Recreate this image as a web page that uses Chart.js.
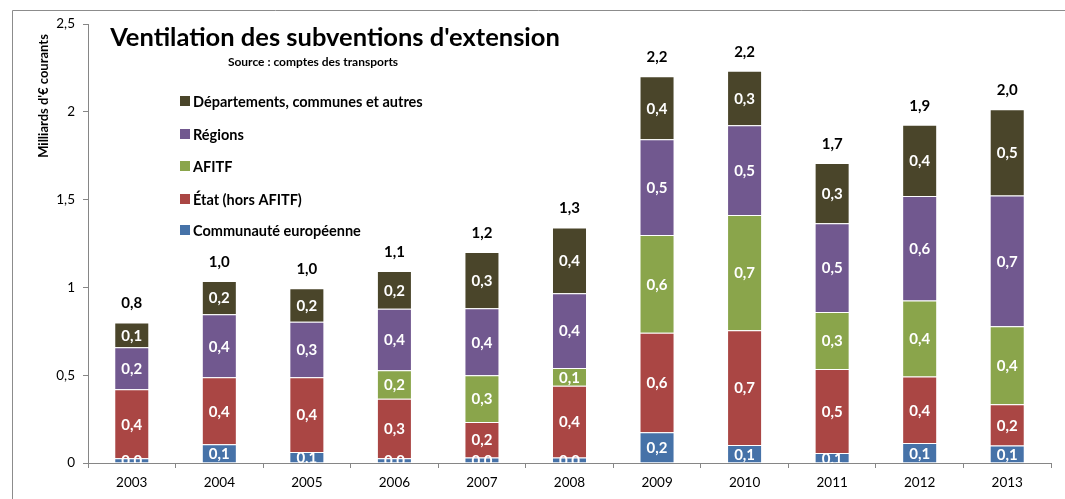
<!DOCTYPE html>
<html lang="fr">
<head>
<meta charset="utf-8">
<title>Ventilation des subventions d'extension</title>
<script src="https://cdn.jsdelivr.net/npm/chart.js@4/dist/chart.umd.min.js"></script>
<style>
  html, body { margin: 0; padding: 0; background: #fff; }
  #wrap { position: relative; width: 1065px; height: 499px; }
</style>
</head>
<body>
<div id="wrap"><canvas id="chart" width="1065" height="499"></canvas></div>
<script>
// Milliards d'euros courants, par financeur
const years = ["2003", "2004", "2005", "2006", "2007", "2008", "2009", "2010", "2011", "2012", "2013"];
const communaute   = [0.027, 0.107, 0.063, 0.027, 0.032, 0.032, 0.175, 0.103, 0.057, 0.114, 0.099];
const etat         = [0.393, 0.381, 0.425, 0.339, 0.202, 0.408, 0.567, 0.653, 0.479, 0.378, 0.235];
const afitf        = [0, 0, 0, 0.162, 0.266, 0.101, 0.557, 0.657, 0.324, 0.433, 0.445];
const regions      = [0.239, 0.359, 0.317, 0.351, 0.381, 0.426, 0.545, 0.511, 0.506, 0.595, 0.745];
const departements = [0.141, 0.19, 0.19, 0.215, 0.321, 0.374, 0.359, 0.31, 0.342, 0.406, 0.49];
const yTicks = [0, 0.5, 1, 1.5, 2, 2.5];

const FONT = "Lato, 'Open Sans', sans-serif";
const fmt = v => (Math.round(v * 10) / 10).toFixed(1).replace(".", ",");
const fmtTick = v => String(v).replace(".", ",");

const series = [
  { label: "Communauté européenne", data: communaute, color: "#4672A8" },
  { label: "État (hors AFITF)", data: etat, color: "#AA4644" },
  { label: "AFITF", data: afitf, color: "#8AA54B" },
  { label: "Régions", data: regions, color: "#71588F" },
  { label: "Départements, communes et autres", data: departements, color: "#4A452A" }
];

// frame, titles, legend and axis title
const decorations = {
  id: "decorations",
  beforeDraw(chart) {
    const ctx = chart.ctx;
    ctx.save();
    ctx.fillStyle = "#fff";
    ctx.fillRect(0, 0, chart.width, chart.height);
    ctx.strokeStyle = "#8c8c8c";
    ctx.lineWidth = 1;
    ctx.beginPath();
    ctx.moveTo(12.5, chart.height);
    ctx.lineTo(12.5, 10.5);
    ctx.lineTo(chart.width, 10.5);
    ctx.stroke();
    ctx.restore();
  },
  afterDraw(chart) {
    const ctx = chart.ctx;
    ctx.save();
    ctx.fillStyle = "#000";
    ctx.textAlign = "center";
    ctx.textBaseline = "middle";
    ctx.font = "bold 25.5px " + FONT;
    ctx.fillText("Ventilation des subventions d'extension", 335, 38);
    ctx.font = "bold 12px " + FONT;
    ctx.fillText("Source : comptes des transports", 313, 62);

    // y axis title
    ctx.save();
    ctx.translate(44, 96);
    ctx.rotate(-Math.PI / 2);
    ctx.font = "bold 13px " + FONT;
    ctx.fillText("Milliards d'€ courants", 0, 0);
    ctx.restore();

    // legend, top series first
    ctx.textAlign = "left";
    ctx.font = "bold 14.5px " + FONT;
    const rows = [101, 134, 166, 199, 230];
    series.slice().reverse().forEach((s, i) => {
      ctx.fillStyle = s.color;
      ctx.fillRect(180, rows[i] - 5, 10, 10);
      ctx.fillStyle = "#000";
      ctx.fillText(s.label, 193, rows[i] + 1);
    });
    ctx.restore();
  }
};

// values inside segments and totals on top
const barLabels = {
  id: "barLabels",
  afterDatasetsDraw(chart) {
    const ctx = chart.ctx;
    const area = chart.chartArea;
    ctx.save();
    ctx.beginPath();
    ctx.rect(area.left, area.top - 40, area.right - area.left, area.bottom - area.top + 40);
    ctx.clip();
    ctx.textAlign = "center";
    ctx.textBaseline = "middle";
    ctx.font = "bold 15px " + FONT;
    ctx.fillStyle = "#fff";
    chart.data.datasets.forEach((ds, di) => {
      const meta = chart.getDatasetMeta(di);
      meta.data.forEach((bar, i) => {
        const v = ds.data[i];
        if (!v) return;
        ctx.fillText(fmt(v), bar.x, (bar.y + bar.base) / 2 + 1);
      });
    });
    const yScale = chart.scales.y;
    const topMeta = chart.getDatasetMeta(chart.data.datasets.length - 1);
    ctx.fillStyle = "#000";
    years.forEach((y, i) => {
      const total = series.reduce((sum, s) => sum + s.data[i], 0);
      ctx.fillText(fmt(total), topMeta.data[i].x, yScale.getPixelForValue(total) - 19);
    });
    ctx.restore();
  }
};

new Chart(document.getElementById("chart"), {
  type: "bar",
  data: {
    labels: years,
    datasets: series.map(s => ({
      label: s.label,
      data: s.data,
      backgroundColor: s.color,
      borderColor: "rgba(255,255,255,0.3)",
      borderWidth: 1,
      categoryPercentage: 0.4,
      barPercentage: 1
    }))
  },
  options: {
    responsive: false,
    animation: false,
    layout: { padding: { left: 0, top: 24, right: 14, bottom: 0 } },
    plugins: {
      legend: { display: false },
      tooltip: { enabled: false }
    },
    scales: {
      x: {
        stacked: true,
        afterFit: s => { s.height = 36; },
        grid: { drawOnChartArea: false, tickLength: 5, color: "#868686" },
        border: { color: "#868686" },
        ticks: { color: "#000", padding: 7, font: { family: FONT, size: 13.5 } }
      },
      y: {
        stacked: true,
        min: 0,
        max: 2.5,
        afterFit: s => { s.width = 88; },
        afterBuildTicks: s => { s.ticks = yTicks.map(v => ({ value: v })); },
        grid: { drawOnChartArea: false, tickLength: 5, color: "#868686" },
        border: { color: "#868686" },
        ticks: {
          color: "#000",
          padding: 8,
          font: { family: FONT, size: 13.5 },
          callback: v => fmtTick(v)
        }
      }
    }
  },
  plugins: [decorations, barLabels]
});
</script>
</body>
</html>
